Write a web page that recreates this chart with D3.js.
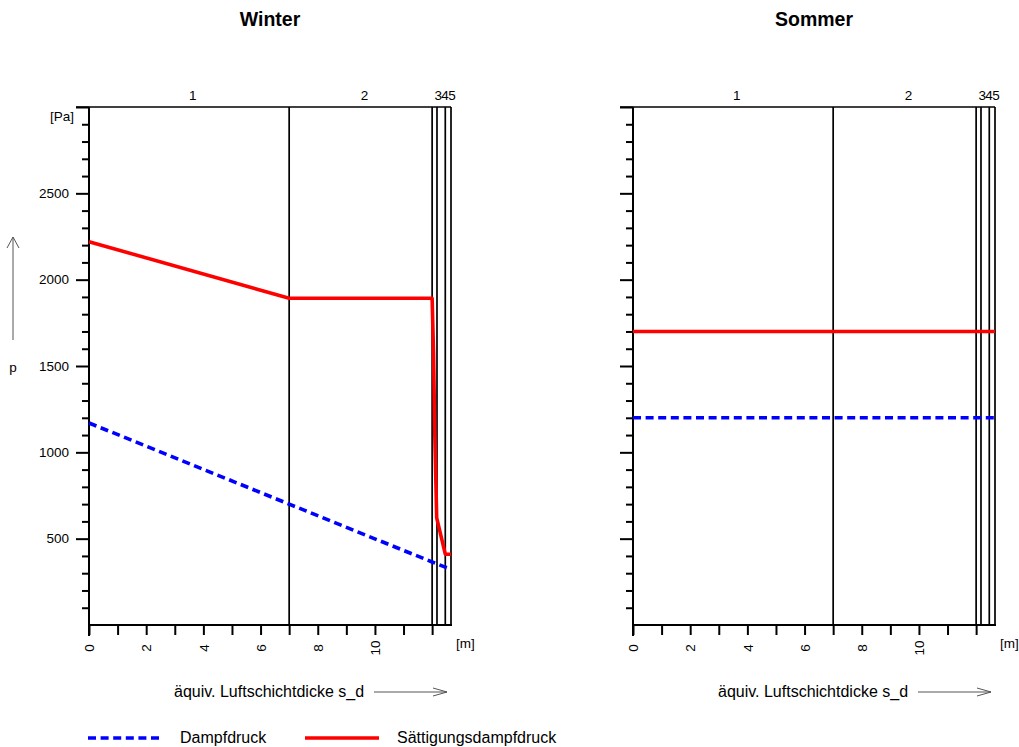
<!DOCTYPE html>
<html>
<head>
<meta charset="utf-8">
<script src="https://cdn.jsdelivr.net/npm/d3@7"></script>
<style>
  html, body { margin: 0; padding: 0; background: #fff; }
  svg { display: block; font-family: "Liberation Sans", Arial, sans-serif; }
</style>
</head>
<body>
<svg id="chart" width="1019" height="747"></svg>
<script>
// ---- data ----
const panelTitles = ["Winter", "Sommer"];
const layerNames = ["1", "2", "3", "4", "5"];
const layerBounds = [0, 7, 12, 12.17, 12.46, 12.66];
const xTickValues = [0, 1, 2, 3, 4, 5, 6, 7, 8, 9, 10, 11, 12];
const xTickLabels = [0, 2, 4, 6, 8, 10];
const yMajorTicks = [500, 1000, 1500, 2000, 2500, 3000];
const yTickLabels = [500, 1000, 1500, 2000, 2500];
const yMinorTicks = [100, 200, 300, 400, 600, 700, 800, 900, 1100, 1200, 1300, 1400, 1600, 1700, 1800, 1900, 2100, 2200, 2300, 2400, 2600, 2700, 2800, 2900];

const winterPdX = [0, 7, 12, 12.17, 12.46, 12.66];
const winterPd  = [1170, 700, 365, 354, 335, 322];
const winterPsX = [0, 7, 12, 12.05, 12.09, 12.16, 12.46, 12.66];
const winterPs  = [2220, 1892, 1892, 1570, 1130, 620, 410, 410];

const summerPdX = [0, 12.66];
const summerPd  = [1200, 1200];
const summerPsX = [0, 12.66];
const summerPs  = [1700, 1700];

const seriesNames = ["Dampfdruck", "Sättigungsdampfdruck"];

// ---- drawing ----
const svg = d3.select("#chart");
const panelLeft = [89, 633];
const plotW = 362, yTop = 107, yBot = 625;
const BLUE = "#0000ff", RED = "#ff0000";
const dash = "8,4.6";

const y = d3.scaleLinear().domain([0, 3000]).range([yBot, yTop]);

const panelData = [
  { pd: d3.zip(winterPdX, winterPd), ps: d3.zip(winterPsX, winterPs) },
  { pd: d3.zip(summerPdX, summerPd), ps: d3.zip(summerPsX, summerPs) }
];

panelTitles.forEach((title, i) => {
  const x0 = panelLeft[i];
  const x = d3.scaleLinear().domain([0, layerBounds[layerBounds.length - 1]]).range([x0, x0 + plotW]);
  const g = svg.append("g");

  // title
  g.append("text").attr("x", (x.range()[0] + x.range()[1]) / 2).attr("y", 26)
    .attr("text-anchor", "middle").attr("font-size", 19.5).attr("font-weight", "bold")
    .text(title);

  // layer boundary lines
  layerBounds.slice(1).forEach(b => {
    g.append("line").attr("x1", x(b)).attr("x2", x(b)).attr("y1", yTop).attr("y2", yBot)
      .attr("stroke", "#000").attr("stroke-width", 1.7);
  });
  // top line
  g.append("line").attr("x1", x0 - 13).attr("x2", x(layerBounds[layerBounds.length - 1]))
    .attr("y1", yTop).attr("y2", yTop).attr("stroke", "#000").attr("stroke-width", 1.7);

  // layer labels
  layerNames.forEach((n, k) => {
    g.append("text").attr("x", (x(layerBounds[k]) + x(layerBounds[k + 1])) / 2).attr("y", 100)
      .attr("font-size", 13.5).text(n);
  });

  // y axis minor
  const yMinor = d3.axisLeft(y).tickValues(yMinorTicks).tickSize(7).tickFormat("");
  const gy1 = g.append("g").attr("transform", `translate(${x0},0)`).call(yMinor);
  // y axis major
  const yMajor = d3.axisLeft(y).tickValues(yMajorTicks).tickSize(13).tickPadding(7)
    .tickFormat(d => (i === 0 && yTickLabels.includes(d)) ? d : "");
  const gy2 = g.append("g").attr("transform", `translate(${x0},0)`).call(yMajor);
  [gy1, gy2].forEach(a => {
    a.select(".domain").remove();
    a.selectAll("line").attr("stroke", "#000").attr("stroke-width", 2);
    a.selectAll("text").attr("font-size", 13.5).attr("fill", "#000")
      .attr("font-family", "Liberation Sans, Arial, sans-serif");
  });
  g.append("line").attr("x1", x0).attr("x2", x0).attr("y1", yTop).attr("y2", yBot + 11)
    .attr("stroke", "#000").attr("stroke-width", 2);

  // x axis
  const xAxis = d3.axisBottom(x).tickValues(xTickValues).tickSize(10)
    .tickFormat(d => xTickLabels.includes(d) ? d : "");
  const gx = g.append("g").attr("transform", `translate(0,${yBot})`).call(xAxis);
  gx.select(".domain").remove();
  gx.selectAll("line").attr("stroke", "#000").attr("stroke-width", 2);
  gx.selectAll("text").attr("font-size", 13.5).attr("fill", "#000")
    .attr("font-family", "Liberation Sans, Arial, sans-serif")
    .attr("transform", "translate(0,23) rotate(-90)").attr("x", 0).attr("y", 0)
    .attr("dy", "0.35em").attr("text-anchor", "middle");
  g.append("line").attr("x1", x0).attr("x2", x(layerBounds[layerBounds.length - 1]) + 1)
    .attr("y1", yBot).attr("y2", yBot).attr("stroke", "#000").attr("stroke-width", 2);

  // unit labels
  if (i === 0) {
    g.append("text").attr("x", x0 - 15).attr("y", 116).attr("dy", "0.35em")
      .attr("text-anchor", "end").attr("font-size", 13.5).text("[Pa]");
    g.append("text").attr("x", 13).attr("y", 367).attr("dy", "0.35em")
      .attr("text-anchor", "middle").attr("font-size", 13.5).text("p");
    g.append("path").attr("d", "M13,340 L13,237 M7,248 L13,237 L19,248")
      .attr("fill", "none").attr("stroke", "#555").attr("stroke-width", 1);
  }
  g.append("text").attr("x", x0 + 367).attr("y", 643).attr("dy", "0.35em")
    .attr("font-size", 13.5).text("[m]");

  // x axis title + arrow
  g.append("text").attr("x", x0 + 85).attr("y", 697).attr("font-size", 16).text("äquiv. Luftschichtdicke s_d");
  g.append("path").attr("d", `M${x0 + 285},692 L${x0 + 358},692 M${x0 + 344},688 L${x0 + 358},692 L${x0 + 344},696`)
    .attr("fill", "none").attr("stroke", "#555").attr("stroke-width", 1);

  // series
  const line = d3.line().x(d => x(d[0])).y(d => y(d[1]));
  g.append("path").datum(panelData[i].ps).attr("d", line)
    .attr("fill", "none").attr("stroke", RED).attr("stroke-width", 3.6).attr("stroke-linejoin", "round");
  g.append("path").datum(panelData[i].pd).attr("d", line)
    .attr("fill", "none").attr("stroke", BLUE).attr("stroke-width", 3.6).attr("stroke-dasharray", dash);
});

// legend
const lg = svg.append("g");
lg.append("line").attr("x1", 88).attr("x2", 160).attr("y1", 738).attr("y2", 738)
  .attr("stroke", BLUE).attr("stroke-width", 3.6).attr("stroke-dasharray", dash);
lg.append("text").attr("x", 180).attr("y", 743).attr("font-size", 16).text(seriesNames[0]);
lg.append("line").attr("x1", 305).attr("x2", 379).attr("y1", 738).attr("y2", 738)
  .attr("stroke", RED).attr("stroke-width", 3.6);
lg.append("text").attr("x", 397).attr("y", 743).attr("font-size", 16).text(seriesNames[1]);
</script>
</body>
</html>
